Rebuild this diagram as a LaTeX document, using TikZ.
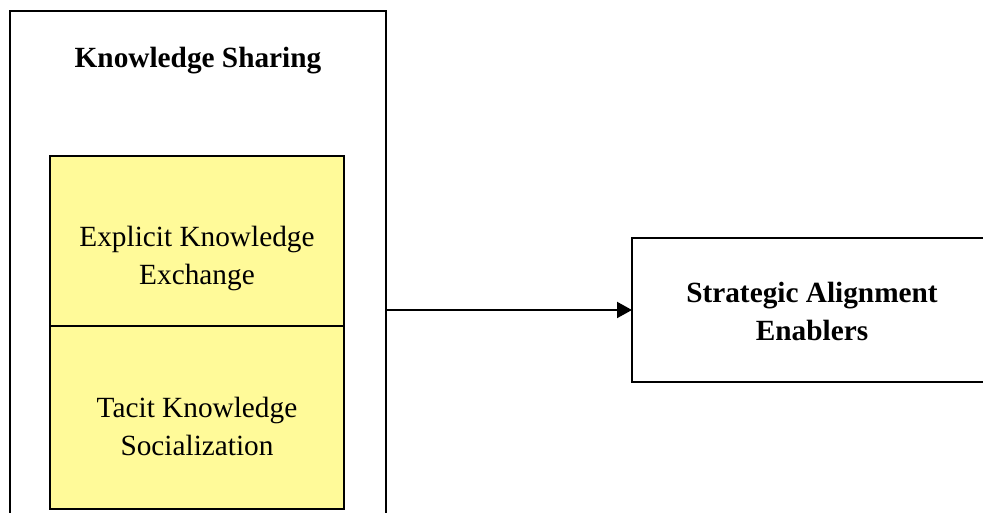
\documentclass[tikz,border=0pt]{standalone}
\usepackage{fontspec}
\setmainfont{Liberation Serif}
\usetikzlibrary{arrows.meta}
\begin{document}
\begin{tikzpicture}[x=1pt,y=1pt,
    frame/.style={draw,line width=2pt,inner sep=0pt,outer sep=0pt},
    yellowbox/.style={frame,fill=yellow!40,minimum width=294pt},
    label/.style={font=\fontsize{29.3}{38}\selectfont,align=center,inner sep=0pt}]
\useasboundingbox (0,0) rectangle (983,513);
\clip (0,0) rectangle (983,513);
\node[frame,minimum width=376pt,minimum height=522pt] (sharing) at (198,241) {};
\node[label,font=\fontsize{29.3}{38}\selectfont\bfseries,anchor=base] (sharingtitle) at (198,445) {Knowledge Sharing};
\node[yellowbox,minimum height=170pt] (explicit) at (197,272) {};
\node[yellowbox,minimum height=183pt] (tacit) at (197,95.5) {};
\node[label] (explicittext) at (197,254) {Explicit Knowledge\\Exchange};
\node[label] (tacittext) at (197,87) {Tacit Knowledge\\Socialization};
\node[frame,fill=white,minimum width=360pt,minimum height=144pt] (enablers) at (812,203) {};
\node[label,font=\fontsize{29.3}{38}\selectfont\bfseries] (enablerstext) at (812,202) {Strategic Alignment\\Enablers};
\draw[line width=2pt,-{Triangle[length=15pt,width=16pt]}] (sharing.east |- enablers.west) -- (enablers.west);
\end{tikzpicture}
\end{document}
